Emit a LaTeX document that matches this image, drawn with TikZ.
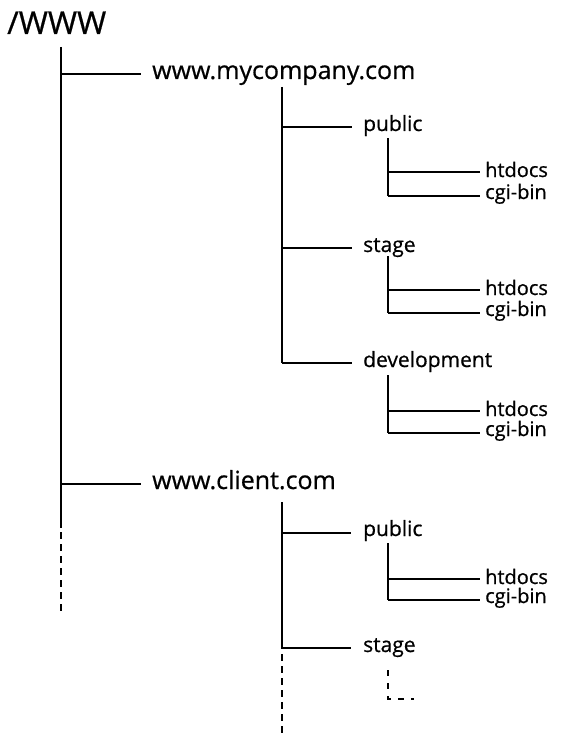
\documentclass[tikz,border=0pt]{standalone}
\usepackage{fontspec}
\setmainfont{Open Sans}[FakeBold=0.7]
\begin{document}
\begin{tikzpicture}[x=1pt,y=-1pt,
  branch/.style={line width=2pt},
  cont/.style={line width=2pt, dash pattern=on 7pt off 5pt},
  rootlbl/.style={anchor=base west, inner sep=0pt, font=\fontsize{31.5}{36}\selectfont},
  lvlone/.style={anchor=base west, inner sep=0pt, font=\fontsize{25}{30}\selectfont},
  lvltwo/.style={anchor=base west, inner sep=0pt, font=\fontsize{21}{25}\selectfont},
  lvlthree/.style={anchor=base west, inner sep=0pt, font=\fontsize{20}{24}\selectfont}]
\useasboundingbox (0,0) rectangle (562,733);

% ---------- labels ----------
\node[rootlbl] (www) at (7,34) {/WWW};
\node[lvlone] (myco) at (152,79) {www.mycompany.com};
\node[lvlone] (client) at (152,489) {www.client.com};

\node[lvltwo] (mpub) at (363,131) {public};
\node[lvltwo] (mstage) at (363,252) {stage};
\node[lvltwo] (mdev) at (363,367) {development};
\node[lvltwo] (cpub) at (363,536) {public};
\node[lvltwo] (cstage) at (363,652) {stage};

\node[lvlthree] (mpubht) at (485,177) {htdocs};
\node[lvlthree] (mpubcg) at (485,199) {cgi-bin};
\node[lvlthree] (mstght) at (485,295) {htdocs};
\node[lvlthree] (mstgcg) at (485,316) {cgi-bin};
\node[lvlthree] (mdevht) at (485,416) {htdocs};
\node[lvlthree] (mdevcg) at (485,436) {cgi-bin};
\node[lvlthree] (cpubht) at (485,584) {htdocs};
\node[lvlthree] (cpubcg) at (485,603) {cgi-bin};

% ---------- root trunk ----------
\coordinate (rtop) at (61,47);
\coordinate (rmy) at (61,74);
\coordinate (rcl) at (61,484);
\coordinate (rend) at (61,528);
\coordinate (rdots) at (61,612);
\draw[branch] (rtop) -- (rend);
\draw[cont, dash phase=-4pt] (rend) -- (rdots);
\draw[branch] (rmy) -- (rmy -| 141,0);
\draw[branch] (rcl) -- (rcl -| 141,0);

% ---------- www.mycompany.com ----------
\coordinate (mtop) at (282,87);
\coordinate (mpubj) at (282,127.5);
\coordinate (mstgj) at (282,248);
\coordinate (mdevj) at (282,363);
\draw[branch] (mtop) -- (mdevj);
\foreach \j in {mpubj,mstgj,mdevj}
  \draw[branch] (\j) -- (\j -| 352,0);

% public
\coordinate (a0) at (388,138);
\coordinate (a1) at (388,172);
\coordinate (a2) at (388,196);
\draw[branch] (a0) -- (a2);
\draw[branch] (a1) -- (a1 -| 480,0);
\draw[branch] (a2) -- (a2 -| 480,0);

% stage
\coordinate (b0) at (388,256);
\coordinate (b1) at (388,290);
\coordinate (b2) at (388,313);
\draw[branch] (b0) -- (b2);
\draw[branch] (b1) -- (b1 -| 480,0);
\draw[branch] (b2) -- (b2 -| 480,0);

% development
\coordinate (c0) at (388,375);
\coordinate (c1) at (388,411);
\coordinate (c2) at (388,433);
\draw[branch] (c0) -- (c2);
\draw[branch] (c1) -- (c1 -| 480,0);
\draw[branch] (c2) -- (c2 -| 480,0);

% ---------- www.client.com ----------
\coordinate (ctop) at (282,502);
\coordinate (cpubj) at (282,532.5);
\coordinate (cstgj) at (282,648);
\coordinate (cbot) at (282,733);
\draw[branch] (ctop) -- (cstgj);
\draw[cont, dash phase=-6pt] (cstgj) -- (cbot);
\draw[branch] (cpubj) -- (cpubj -| 351,0);
\draw[branch] (cstgj) -- (cstgj -| 351,0);

% public
\coordinate (d0) at (388,543);
\coordinate (d1) at (388,579);
\coordinate (d2) at (388,600);
\draw[branch] (d0) -- (d2);
\draw[branch] (d1) -- (d1 -| 480,0);
\draw[branch] (d2) -- (d2 -| 480,0);

% stage (elided)
\coordinate (e0) at (388,670);
\coordinate (e1) at (388,699);
\coordinate (e2) at (414,699);
\draw[line width=2pt, dash pattern=on 6pt off 7pt] (e0) -- (e1) -- (e2);
\end{tikzpicture}
\end{document}
